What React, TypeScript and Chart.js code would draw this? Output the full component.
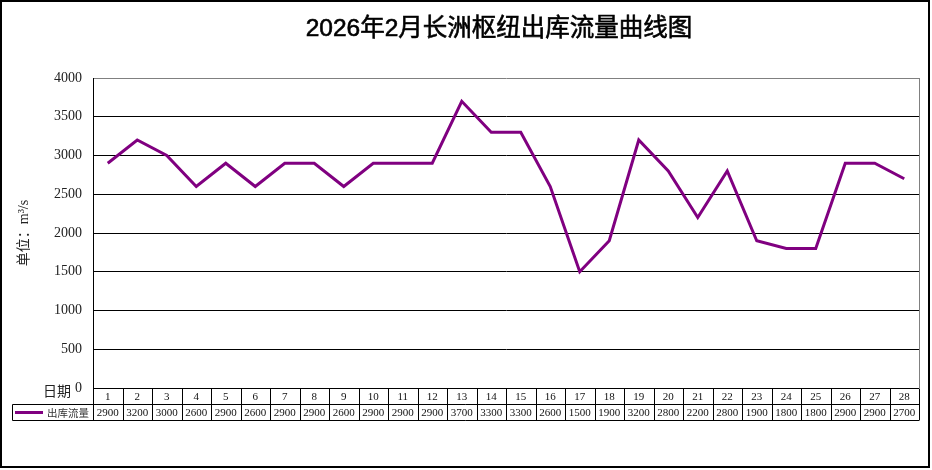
import React, { useEffect, useRef } from "react";
import { Chart, registerables } from "chart.js";

Chart.register(...registerables);

const chartTitle = "2026年2月长洲枢纽出库流量曲线图";
const yAxisTitle = "单位：m³/s";
const xAxisName = "日期";
const seriesName = "出库流量";
const days = [
  "1", "2", "3", "4", "5", "6", "7", "8", "9", "10", "11", "12", "13", "14",
  "15", "16", "17", "18", "19", "20", "21", "22", "23", "24", "25", "26", "27", "28",
];
const outflow = [
  2900, 3200, 3000, 2600, 2900, 2600, 2900, 2900, 2600, 2900, 2900, 2900, 3700, 3300,
  3300, 2600, 1500, 1900, 3200, 2800, 2200, 2800, 1900, 1800, 1800, 2900, 2900, 2700,
];
const yMin = 0;
const yMax = 4000;
const yStep = 500;

const LINE_COLOR = "#800080";
const SERIF = "'Liberation Serif', 'Noto Sans CJK SC', serif";
const CJK = "'Noto Sans CJK SC', sans-serif";

const decorPlugin = {
  id: "decor",
  afterDraw(chart: any) {
    const ctx = chart.ctx as CanvasRenderingContext2D;
    const area = chart.chartArea;
    const xs = chart.scales.x;
    const n = days.length;
    const colW = (area.right - area.left) / n;
    ctx.save();

    // plot right border (gray)
    ctx.strokeStyle = "#808080";
    ctx.lineWidth = 1;
    ctx.beginPath();
    ctx.moveTo(Math.round(area.right) + 0.5, area.top);
    ctx.lineTo(Math.round(area.right) + 0.5, area.bottom);
    ctx.stroke();

    // data table
    const r0 = Math.round(area.bottom) + 0.5;
    const r1 = r0 + 16;
    const r2 = r1 + 16;
    const legendLeft = 12.5;
    ctx.strokeStyle = "#000";
    ctx.beginPath();
    ctx.moveTo(area.left, r0);
    ctx.lineTo(area.right, r0);
    ctx.moveTo(legendLeft, r1);
    ctx.lineTo(area.right, r1);
    ctx.moveTo(legendLeft, r2);
    ctx.lineTo(area.right, r2);
    for (let i = 0; i <= n; i++) {
      const x = Math.round(area.left + i * colW) + 0.5;
      ctx.moveTo(x, r0);
      ctx.lineTo(x, r2);
    }
    ctx.moveTo(legendLeft, r1);
    ctx.lineTo(legendLeft, r2);
    ctx.stroke();

    ctx.fillStyle = "#111";
    ctx.font = `11px ${SERIF}`;
    ctx.textAlign = "center";
    ctx.textBaseline = "middle";
    for (let i = 0; i < n; i++) {
      const cx = xs.getPixelForValue(i);
      ctx.fillText(days[i], cx, (r0 + r1) / 2 + 0.5);
      ctx.fillText(String(outflow[i]), cx, (r1 + r2) / 2 + 0.5);
    }

    // legend key in table
    ctx.strokeStyle = LINE_COLOR;
    ctx.lineWidth = 3;
    ctx.beginPath();
    ctx.moveTo(15, (r1 + r2) / 2);
    ctx.lineTo(43, (r1 + r2) / 2);
    ctx.stroke();
    ctx.fillStyle = "#333";
    ctx.font = `10.5px ${CJK}`;
    ctx.textAlign = "left";
    ctx.fillText(seriesName, 47, (r1 + r2) / 2 + 0.5);

    // x name
    ctx.fillStyle = "#222";
    ctx.font = `14px ${CJK}`;
    ctx.fillText(xAxisName, 43, 391);

    // title
    ctx.fillStyle = "#000";
    ctx.strokeStyle = "#000";
    ctx.lineWidth = 0.6;
    ctx.font = `24.5px 'Liberation Sans', ${CJK}`;
    ctx.textAlign = "center";
    ctx.fillText(chartTitle, 499, 29);
    ctx.strokeText(chartTitle, 499, 29);

    // outer frame
    ctx.strokeStyle = "#000";
    ctx.lineWidth = 2;
    ctx.strokeRect(1, 1, 928, 466);
    ctx.restore();
  },
};

export default function App() {
  const ref = useRef<HTMLCanvasElement>(null);
  useEffect(() => {
    if (!ref.current) return;
    const chart = new Chart(ref.current, {
      type: "line",
      data: {
        labels: days,
        datasets: [
          {
            label: seriesName,
            data: outflow,
            borderColor: LINE_COLOR,
            backgroundColor: LINE_COLOR,
            borderWidth: 3,
            pointRadius: 0,
            tension: 0,
            fill: false,
          },
        ],
      },
      options: {
        animation: false,
        responsive: false,
        devicePixelRatio: 1,
        layout: { padding: { left: 0, top: 78, right: 13, bottom: 82 } },
        plugins: {
          legend: { display: false },
          title: { display: false },
          tooltip: { enabled: false },
        },
        scales: {
          x: {
            type: "category",
            display: false,
            offset: true,
          },
          y: {
            min: yMin,
            max: yMax,
            afterFit: (s: any) => {
              s.width = 93;
            },
            ticks: {
              stepSize: yStep,
              padding: 11,
              color: "#222",
              font: { family: SERIF, size: 14 },
              callback: (v: any) => String(v),
            },
            grid: {
              drawTicks: false,
              color: (c: any) => (c.tick && c.tick.value === yMax ? "#808080" : "#000"),
              lineWidth: 1,
            },
            border: { display: true, color: "#000", width: 1 },
            title: {
              display: true,
              text: yAxisTitle,
              color: "#222",
              font: { family: SERIF, size: 14 },
              padding: { top: 16, bottom: 0 },
            },
          },
        },
      },
      plugins: [decorPlugin],
    });
    return () => chart.destroy();
  }, []);
  return (
    <div style={{ position: "fixed", left: 0, top: 0, width: 932, height: 470, background: "#fff" }}>
      <canvas ref={ref} width={932} height={470} style={{ display: "block" }} />
    </div>
  );
}
